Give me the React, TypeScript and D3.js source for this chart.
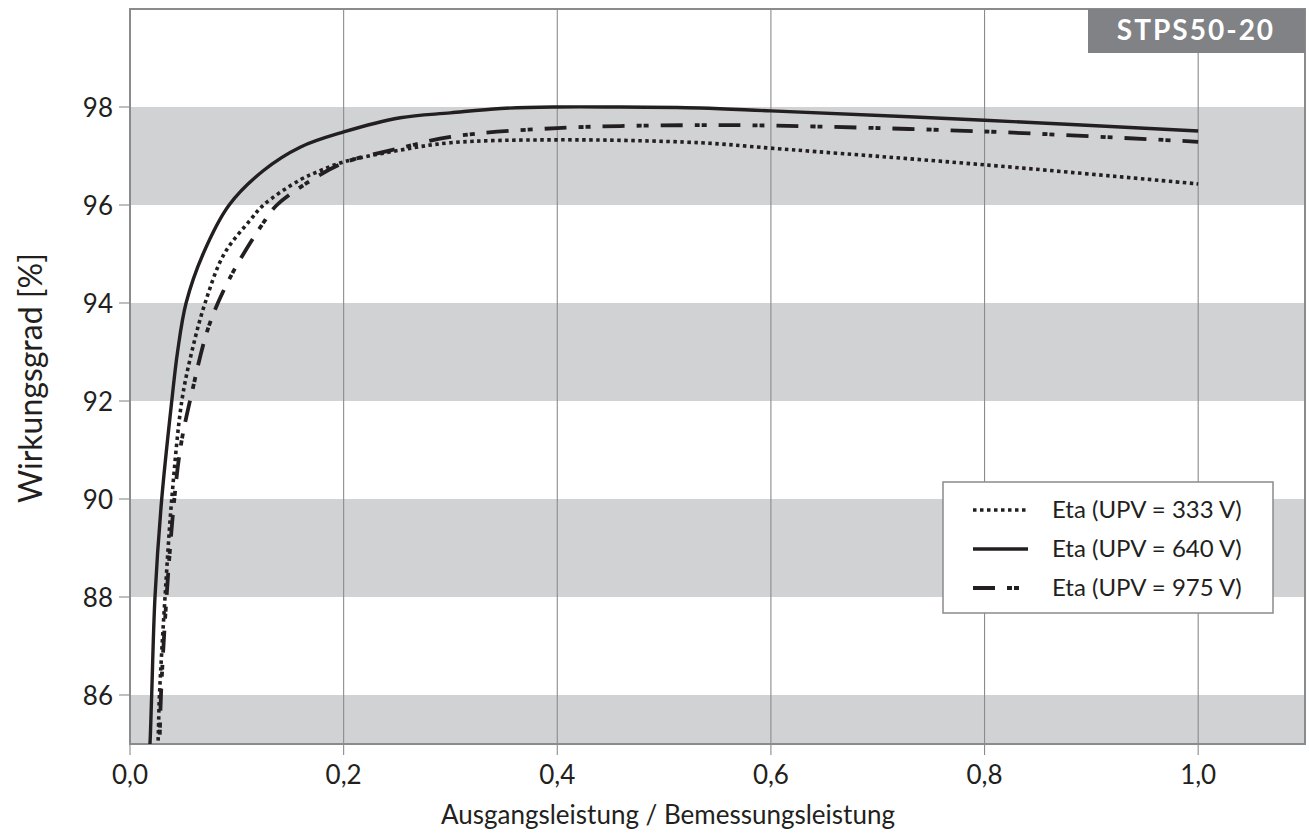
import React from "react";
import * as d3 from "d3";

// ---- data ----
const xTicks = [0, 0.2, 0.4, 0.6, 0.8, 1.0];
const xTickLabels = ["0,0", "0,2", "0,4", "0,6", "0,8", "1,0"];
const yTicks = [86, 88, 90, 92, 94, 96, 98];
const yTickLabels = ["86", "88", "90", "92", "94", "96", "98"];
const bandLows = [84, 88, 92, 96];
const bandHighs = [86, 90, 94, 98];

const seriesNames = ["Eta (UPV = 333 V)", "Eta (UPV = 640 V)", "Eta (UPV = 975 V)"];

const x333 = [0.025, 0.0262, 0.0276, 0.0328, 0.0391, 0.0485, 0.0578, 0.0703, 0.0881, 0.1125, 0.125, 0.159, 0.178, 0.2, 0.253, 0.3, 0.4, 0.534, 0.6, 0.8, 1.0];
const eta333 = [84.5, 85, 86, 88, 90, 92, 93, 94, 95, 95.69, 96, 96.51, 96.7, 96.88, 97.12, 97.27, 97.33, 97.27, 97.16, 96.82, 96.43];

const x640 = [0.0172, 0.0187, 0.0203, 0.0234, 0.0297, 0.0391, 0.0445, 0.0525, 0.0684, 0.0928, 0.1247, 0.1593, 0.2, 0.253, 0.3, 0.347, 0.4, 0.45, 0.534, 0.6, 0.8, 1.0];
const eta640 = [84.5, 85, 86, 88, 90, 92, 93, 94, 95, 96, 96.7, 97.18, 97.49, 97.78, 97.88, 97.97, 98.0, 98.0, 97.98, 97.92, 97.73, 97.51];

const x975 = [0.0265, 0.0276, 0.029, 0.0342, 0.0415, 0.0478, 0.0578, 0.0734, 0.0937, 0.1265, 0.1375, 0.1656, 0.2, 0.253, 0.3, 0.4, 0.534, 0.6, 0.8, 1.0];
const eta975 = [84.5, 85, 86, 88, 90, 91.12, 92.16, 93.5, 94.52, 95.69, 96, 96.45, 96.86, 97.16, 97.39, 97.57, 97.63, 97.62, 97.5, 97.29];

const titleText = "STPS50-20";
const xTitle = "Ausgangsleistung / Bemessungsleistung";
const yTitle = "Wirkungsgrad [%]";

const W = 1309, H = 833;
const M = { left: 130, right: 1305, top: 9, bottom: 744 };
const FONT = "Lato, 'Open Sans', sans-serif";
const TXT = "#231f20";

export default function App() {
  const x = d3.scaleLinear().domain([0, 1.1]).range([M.left, M.right]);
  const y = d3.scaleLinear().domain([85, 100]).range([M.bottom, M.top]);
  const line = d3
    .line<[number, number]>()
    .x((d) => x(d[0]))
    .y((d) => y(d[1]))
    .curve(d3.curveCatmullRom.alpha(0.5));

  const series = [
    { xs: x333, ys: eta333, dash: "3.5 3.5", width: 3.6 },
    { xs: x640, ys: eta640, dash: "none", width: 3.4 },
    { xs: x975, ys: eta975, dash: "22 12 5 2 5 12", width: 3.8 },
  ];

  const legendX = 943, legendY = 482, legendW = 330, legendH = 131;
  const rowYs = [510, 549, 588];

  return (
    <svg width={W} height={H} style={{ position: "absolute", left: 0, top: 0 }} fontFamily={FONT}>
      <defs>
        <clipPath id="plotClip">
          <rect x={M.left} y={M.top} width={M.right - M.left} height={M.bottom - M.top} />
        </clipPath>
      </defs>
      <rect x={0} y={0} width={W} height={H} fill="#fff" />
      {/* bands */}
      <g clipPath="url(#plotClip)">
        {bandLows.map((lo, i) => (
          <rect key={i} x={M.left} width={M.right - M.left} y={y(bandHighs[i])} height={y(lo) - y(bandHighs[i])} fill="#d1d2d4" />
        ))}
      </g>
      {/* grid */}
      {xTicks.slice(1).map((t, i) => (
        <line key={i} x1={x(t)} x2={x(t)} y1={M.top} y2={M.bottom + 11} stroke="#8a8b8d" strokeWidth={1.1} />
      ))}
      <line x1={x(0)} x2={x(0)} y1={M.bottom} y2={M.bottom + 11} stroke="#8a8b8d" strokeWidth={1.1} />
      {yTicks.map((t, i) => (
        <line key={i} x1={M.left - 11} x2={M.left} y1={y(t)} y2={y(t)} stroke="#8a8b8d" strokeWidth={1.1} />
      ))}
      {/* frame */}
      <rect x={M.left} y={M.top} width={M.right - M.left} height={M.bottom - M.top} fill="none" stroke="#8a8b8d" strokeWidth={2} />
      {/* curves */}
      <g clipPath="url(#plotClip)">
        {series.map((s, i) => (
          <path
            key={i}
            d={line(s.xs.map((v, j) => [v, s.ys[j]] as [number, number])) || ""}
            fill="none"
            stroke="#231f20"
            strokeWidth={s.width}
            strokeDasharray={s.dash}
          />
        ))}
      </g>
      {/* tick labels */}
      {yTicks.map((t, i) => (
        <text key={i} x={113} y={y(t) + 10} textAnchor="end" fontSize={26} fill={TXT}>
          {yTickLabels[i]}
        </text>
      ))}
      {xTicks.map((t, i) => (
        <text key={i} x={x(t)} y={784} textAnchor="middle" fontSize={26} fill={TXT}>
          {xTickLabels[i]}
        </text>
      ))}
      {/* axis titles */}
      <text x={668} y={824} textAnchor="middle" fontSize={26} fill={TXT}>
        {xTitle}
      </text>
      <text transform={`translate(42,378) rotate(-90)`} textAnchor="middle" fontSize={32} fill={TXT}>
        {yTitle}
      </text>
      {/* title box */}
      <rect x={1088} y={M.top} width={M.right - 1088} height={44} fill="#808285" />
      <text x={1196} y={40} textAnchor="middle" fontSize={28} fontWeight="bold" letterSpacing={2} fill="#fff">
        {titleText}
      </text>
      {/* legend */}
      <rect x={legendX} y={legendY} width={legendW} height={legendH} fill="#fff" stroke="#8a8b8d" strokeWidth={1.5} />
      {series.map((s, i) => (
        <g key={i}>
          <line x1={973} x2={1028} y1={rowYs[i]} y2={rowYs[i]} stroke="#231f20" strokeWidth={s.width} strokeDasharray={s.dash} />
          <text x={1052} y={rowYs[i] + 8} fontSize={24} fill={TXT}>
            {seriesNames[i]}
          </text>
        </g>
      ))}
    </svg>
  );
}
